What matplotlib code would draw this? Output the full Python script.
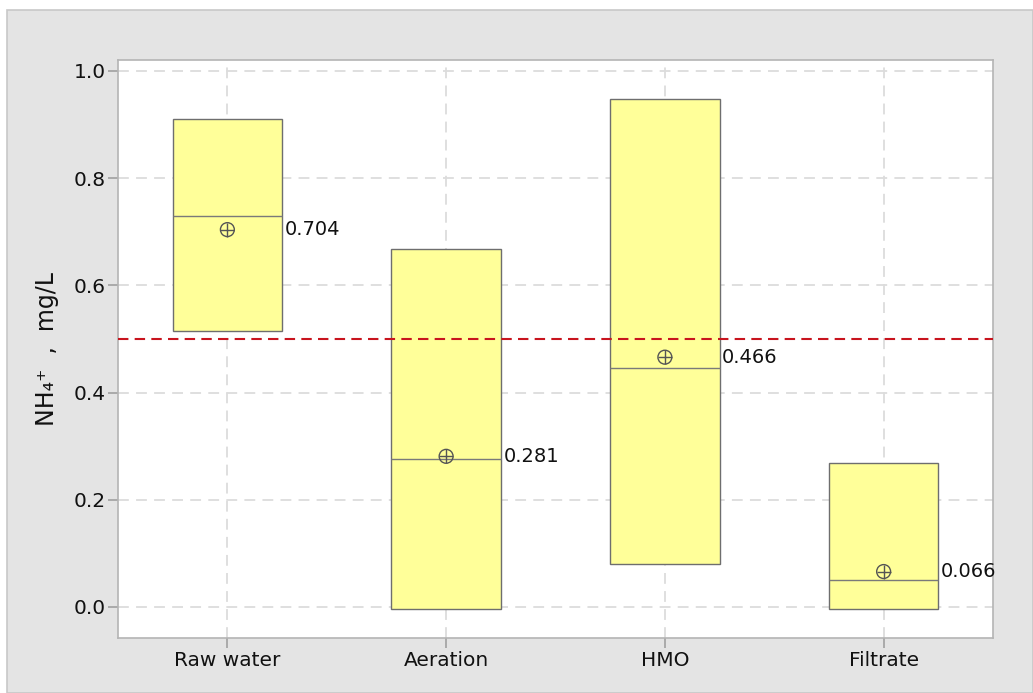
import numpy as np
import matplotlib.pyplot as plt
from matplotlib.patches import Rectangle

# NH4+ concentrations by treatment stage
stages = ['Raw water', 'Aeration', 'HMO', 'Filtrate']
q1 = [0.515, -0.004, 0.080, -0.004]
q3 = [0.910, 0.668, 0.948, 0.269]
medians = [0.729, 0.276, 0.446, 0.050]
means = [0.704, 0.281, 0.466, 0.066]
limit = 0.5

fig = plt.figure(figsize=(10.33, 6.93), dpi=100)
fig.patch.set_facecolor('white')
fig.patches.append(Rectangle((7 / 1033, 0), 1 - 7 / 1033, 1 - 10 / 693,
                             transform=fig.transFigure, facecolor='#e4e4e4',
                             edgecolor='#c8c8c8', linewidth=1.2, zorder=-10))

ax = fig.add_axes([118 / 1033, 1 - 638 / 693, 875 / 1033, 578 / 693])
ax.set_facecolor('white')

x = np.arange(len(stages))
width = 0.5
ax.bar(x, np.subtract(q3, q1), bottom=q1, width=width, color='#ffff99',
       edgecolor='#6e6e6e', linewidth=1.0, zorder=3)
ax.hlines(medians, x - width / 2, x + width / 2, color='#7a7a7a', linewidth=1.0, zorder=4)

# mean markers: circle with a cross
ax.scatter(x, means, s=100, facecolors='none', edgecolors='#555555', linewidths=1.0, zorder=5)
ax.scatter(x, means, s=100, marker='+', color='#555555', linewidths=1.0, zorder=5)
for xi, m in zip(x, means):
    ax.text(xi + width / 2 + 0.012, m, f'{m:.3f}', va='center', ha='left',
            fontsize=14, color='#111111', zorder=6)

ax.axhline(limit, color='#c8141e', linestyle=(0, (5, 3)), linewidth=1.5, zorder=4)

ax.set_xlim(-0.5, 3.5)
ax.set_ylim(-0.058, 1.0205)
ax.set_xticks(x)
ax.set_xticklabels(stages)
ax.set_yticks(np.arange(0, 1.01, 0.2))
ax.set_yticklabels([f'{v:.1f}' for v in np.arange(0, 1.01, 0.2)])
ax.tick_params(axis='both', labelsize=14.5, color='#a0a0a0', length=7, width=1.2, pad=2,
               labelcolor='#111111')
ax.grid(True, color='#dcdcdc', linestyle=(0, (6, 4)), linewidth=1.3, zorder=0)
ax.set_axisbelow(True)
for s in ax.spines.values():
    s.set_color('#b4b4b4')
    s.set_linewidth(1.2)

ax.set_ylabel('NH₄⁺  ,  mg/L', fontsize=17, color='#111111', labelpad=10)

fig.savefig('out.png', dpi=100)
